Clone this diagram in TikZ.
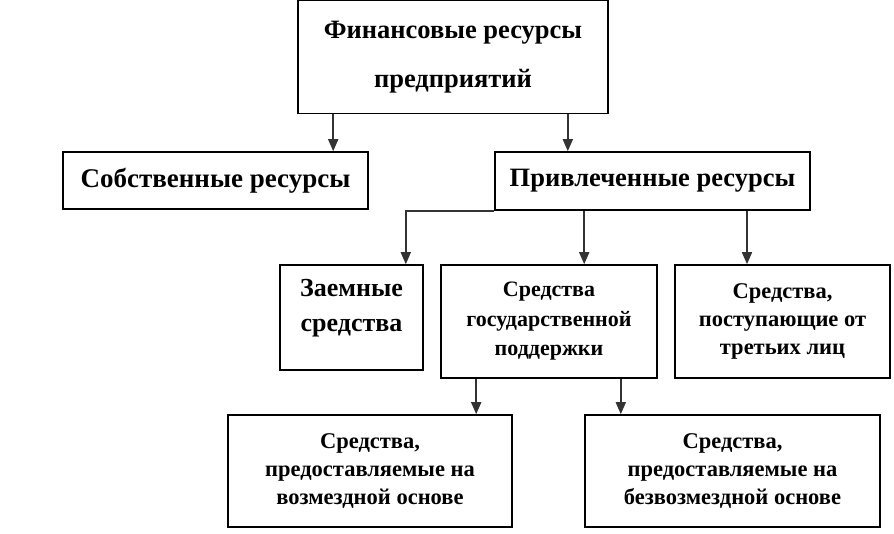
\documentclass[tikz,border=0pt]{standalone}
\usepackage{fontspec}
\setmainfont{Liberation Serif}
\usetikzlibrary{arrows.meta,calc}
\tikzset{
  box/.style={draw=black, line width=1.6pt, rectangle, align=center, inner sep=0pt, font=\bfseries},
  arr/.style={draw=black!80, line width=1.6pt, -{Triangle[length=12pt,width=10pt]}},
}
\begin{document}
\begin{tikzpicture}[x=1pt,y=-1pt]
\useasboundingbox (0,0) rectangle (894,533);
\node[box, minimum width=310pt, minimum height=113pt, font=\bfseries\fontsize{26.5}{49}\selectfont] (top) at (453,57) {Финансовые ресурсы\\предприятий};
\node[box, minimum width=305pt, minimum height=57pt, font=\bfseries\fontsize{27}{30}\selectfont] (sob) at (215.5,180.5) {Собственные ресурсы};
\node[box, minimum width=315pt, minimum height=58pt, font=\bfseries\fontsize{26.5}{30}\selectfont] (priv) at (652.5,181) {Привлеченные ресурсы};
\node[box, minimum width=143pt, minimum height=105pt] (zaem) at (351.5,317.5) {};
\node[align=center, inner sep=0pt, font=\bfseries\fontsize{26}{35}\selectfont] (zaemtext) at ([yshift=9pt]zaem.center) {Заемные\\средства};
\node[box, minimum width=216pt, minimum height=113pt, font=\bfseries\fontsize{22}{29.5}\selectfont] (gos) at (549,321.5) {Средства\\государственной\\поддержки};
\node[box, minimum width=215pt, minimum height=113pt, font=\bfseries\fontsize{22.5}{28}\selectfont] (third) at (782.5,321.5) {Средства,\\поступающие от\\третьих лиц};
\node[box, minimum width=284pt, minimum height=112pt, font=\bfseries\fontsize{22.5}{28}\selectfont] (bl) at (370,471) {Средства,\\предоставляемые на\\возмездной основе};
\node[box, minimum width=295pt, minimum height=112pt, font=\bfseries\fontsize{22.5}{28}\selectfont] (br) at (732.5,471) {Средства,\\предоставляемые на\\безвозмездной основе};
% connectors
\coordinate (t1) at ([xshift=36pt]top.south west);
\coordinate (t2) at ([xshift=-41pt]top.south east);
\draw[arr] (t1) -- (t1 |- sob.north);
\draw[arr] (t2) -- (t2 |- priv.north);
\coordinate (z1) at ([xshift=-18pt]zaem.north east);
\draw[arr] (priv.south west) -| (z1);
\coordinate (g1) at ([xshift=144pt]gos.north west);
\draw[arr] (g1 |- priv.south) -- (g1);
\coordinate (h1) at ([xshift=-35.5pt]third.north);
\draw[arr] (h1 |- priv.south) -- (h1);
\coordinate (b1) at ([xshift=36pt]gos.south west);
\coordinate (b2) at ([xshift=-37pt]gos.south east);
\draw[arr] (b1) -- (b1 |- bl.north);
\draw[arr] (b2) -- (b2 |- br.north);
\end{tikzpicture}
\end{document}
